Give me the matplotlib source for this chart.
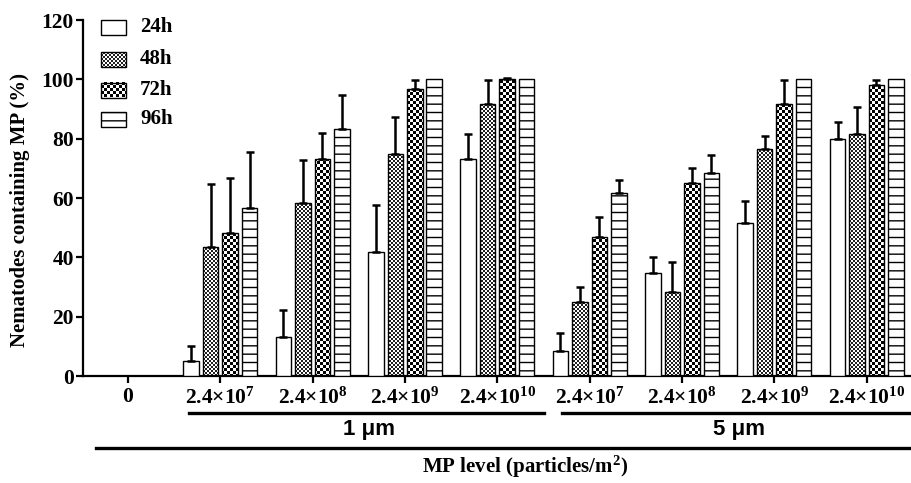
import numpy as np
import matplotlib
matplotlib.use("Agg")
import matplotlib.pyplot as plt
from matplotlib.path import Path
from matplotlib.patches import Rectangle
from matplotlib.lines import Line2D

# ---------------- data ----------------
groups = ["0",
          "2.4×10$^{7}$", "2.4×10$^{8}$", "2.4×10$^{9}$", "2.4×10$^{10}$",
          "2.4×10$^{7}$", "2.4×10$^{8}$", "2.4×10$^{9}$", "2.4×10$^{10}$"]
series = ["24h", "48h", "72h", "96h"]
v24 = [0, 5.0, 13.2, 41.7, 73.1, 8.4, 34.8, 51.7, 79.8]
v48 = [0, 43.4, 58.4, 75.0, 91.6, 24.9, 28.2, 76.5, 81.7]
v72 = [0, 48.3, 73.2, 96.6, 100.0, 46.7, 64.9, 91.6, 98.1]
v96 = [0, 56.6, 83.3, 100.0, 100.0, 61.7, 68.4, 100.0, 100.0]
e24 = [0, 5.1, 8.9, 15.9, 8.5, 6.1, 5.3, 7.3, 5.7]
e48 = [0, 21.2, 14.3, 12.4, 8.2, 5.1, 10.2, 4.5, 9.0]
e72 = [0, 18.4, 8.8, 3.2, 0.6, 7.0, 5.1, 8.2, 1.7]
e96 = [0, 18.8, 11.4, 0, 0, 4.2, 6.0, 0, 0]
size_labels = ["1 μm", "5 μm"]
xlabel = "MP level (particles/m$^{2}$)"
ylabel = "Nematodes containing MP (%)"

values = [v24, v48, v72, v96]
errors = [e24, e48, e72, e96]

# ---------------- style ----------------
W, H = 912, 483
plt.rcParams['font.family'] = ['Liberation Serif', 'DejaVu Serif']
plt.rcParams['font.weight'] = 'bold'
plt.rcParams['mathtext.fontset'] = 'custom'
plt.rcParams['mathtext.rm'] = 'Liberation Serif:bold'
plt.rcParams['mathtext.bf'] = 'Liberation Serif:bold'
plt.rcParams['mathtext.it'] = 'Liberation Serif:bold'
plt.rcParams['mathtext.default'] = 'bf'
plt.rcParams['hatch.linewidth'] = 1.0

fig = plt.figure(figsize=(W / 100, H / 100), dpi=100)

def fx(x):
    return x / W

def fy(y):
    return 1 - y / H

ax_l, ax_r, ax_t, ax_b = 83, 912, 20, 376
ax = fig.add_axes([fx(ax_l), fy(ax_b), fx(ax_r - ax_l), (ax_b - ax_t) / H])
ax.set_facecolor('none')
for s in ['top', 'right']:
    ax.spines[s].set_visible(False)
for s in ['left', 'bottom']:
    ax.spines[s].set_linewidth(1.6)

x = np.arange(len(groups))
pitch = 0.211
width = 0.168
offsets = (np.arange(4) - 1.5) * pitch
xlim = (-0.487, 8.49)
ylim = (0, 120)

# textures (pixel-aligned with axes)
npx = ax_r - ax_l
npy = ax_b - ax_t

def checker(cell):
    jj, ii = np.meshgrid(np.arange(npx), np.arange(npy))
    return (((jj // cell) + (ii // cell)) % 2).astype(float)

textures = {1: checker(2), 2: checker(3)}
tex_vmax = {1: 1.15, 2: 1.0}

for k in range(4):
    fc = 'white' if k in (0, 3) else 'none'
    hatch = '--' if k == 3 else None
    bars = ax.bar(x + offsets[k], values[k], width, facecolor=fc,
                  edgecolor='black', linewidth=1.0, hatch=hatch, zorder=3)
    if k in textures:
        paths = [b.get_path().transformed(b.get_patch_transform()) for b in bars]
        cp = Path.make_compound_path(*paths)
        im = ax.imshow(textures[k], cmap='gray_r', vmin=0, vmax=tex_vmax[k],
                       extent=(xlim[0], xlim[1], ylim[0], ylim[1]),
                       aspect='auto', interpolation='nearest', zorder=2,
                       origin='upper')
        im.set_clip_path(cp, transform=ax.transData)
    err = np.array(errors[k])
    vals = np.array(values[k])
    m = err > 0
    ax.errorbar((x + offsets[k])[m], vals[m],
                yerr=[np.zeros(m.sum()), err[m]], fmt='none', ecolor='black',
                elinewidth=1.8, capsize=2.6, capthick=1.8, zorder=4)

ax.set_xlim(*xlim)
ax.set_ylim(*ylim)
ax.set_yticks(np.arange(0, 121, 20))
ax.set_xticks(x)
ax.set_xticklabels(groups, fontsize=15.5, fontweight='bold')
ax.tick_params(axis='both', length=5, width=1.6, labelsize=15.5, pad=1.5)
ax.tick_params(axis='x', pad=3)
for t in ax.get_yticklabels():
    t.set_fontweight('bold')

# y label
fig.text(fx(20), fy(210), ylabel, rotation=90, ha='center', va='center',
         fontsize=15, fontweight='bold')

# legend (manual)
leg_rows = [27, 59.5, 90, 119.5]
for k, yc in enumerate(leg_rows):
    x0, y0 = 101, yc - 7.5
    fc = 'white' if k in (0, 3) else 'none'
    r = Rectangle((fx(x0), fy(y0 + 15)), fx(25), 15 / H, transform=fig.transFigure,
                  facecolor=fc, edgecolor='black', linewidth=1.0,
                  hatch='--' if k == 3 else None, zorder=5)
    fig.add_artist(r)
    if k in textures:
        cell = 2 if k == 1 else 3
        jj, ii = np.meshgrid(np.arange(25), np.arange(15))
        tex = (((jj // cell) + (ii // cell)) % 2).astype(float)
        fig.figimage(tex, xo=x0, yo=H - (y0 + 15), cmap='gray_r',
                     vmin=0, vmax=tex_vmax[k], zorder=4, origin='upper')
    fig.text(fx(140), fy(yc), series[k], ha='left', va='center',
             fontsize=15, fontweight='bold')

# group lines and labels
lw_line = 2.4
fig.add_artist(Line2D([fx(189), fx(544)], [fy(413), fy(413)], color='black',
                      lw=lw_line, transform=fig.transFigure))
fig.add_artist(Line2D([fx(562), fx(912)], [fy(413), fy(413)], color='black',
                      lw=lw_line, transform=fig.transFigure))
fig.add_artist(Line2D([fx(96), fx(912)], [fy(448), fy(448)], color='black',
                      lw=lw_line, transform=fig.transFigure))
fig.text(fx(369), fy(430), size_labels[0], ha='center', va='center',
         fontsize=16, fontweight='bold', family=['Liberation Sans', 'DejaVu Sans'])
fig.text(fx(739), fy(430), size_labels[1], ha='center', va='center',
         fontsize=16, fontweight='bold', family=['Liberation Sans', 'DejaVu Sans'])
fig.text(fx(525), fy(480), xlabel, ha='center', va='bottom',
         fontsize=15, fontweight='bold')

fig.savefig('out.png', dpi=100)
